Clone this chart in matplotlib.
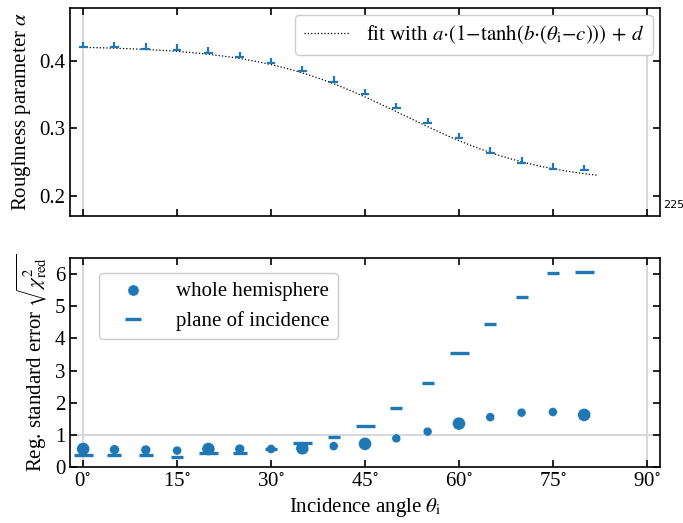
import numpy as np
import matplotlib
matplotlib.use("Agg")
import matplotlib.pyplot as plt

# incidence angles in degrees
theta = [0, 5, 10, 15, 20, 25, 30, 35, 40, 45, 50, 55, 60, 65, 70, 75, 80]

# fitted roughness parameter alpha and its (upper) uncertainty
alpha = [0.420, 0.420, 0.418, 0.416, 0.412, 0.405, 0.396, 0.384, 0.369,
         0.350, 0.330, 0.307, 0.285, 0.264, 0.249, 0.240, 0.238]
alpha_err = [0.008] * len(theta)

# tanh fit parameters a, b, c, d
fit_a, fit_b, fit_c, fit_d = 0.102, 0.044, 51.0, 0.218

# regression standard error
err_hemisphere = [0.56, 0.54, 0.53, 0.51, 0.56, 0.56, 0.56, 0.58, 0.65,
                  0.72, 0.89, 1.10, 1.35, 1.55, 1.69, 1.71, 1.62]
err_plane = [0.36, 0.37, 0.37, 0.32, 0.42, 0.44, 0.57, 0.75, 0.94,
             1.27, 1.85, 2.62, 3.56, 4.46, 5.30, 6.02, 6.05]
# relative weight of each measurement (large / small marker)
weight = [1, 0.2, 0.2, 0, 1, 0.2, 0, 1, 0, 1, 0, 0, 1, 0, 0, 0, 1]

plt.rcParams['font.family'] = ['Liberation Serif', 'DejaVu Serif']
plt.rcParams['mathtext.fontset'] = 'stix'
plt.rcParams['font.size'] = 15
plt.rcParams['axes.linewidth'] = 1.2
for k in ('xtick', 'ytick'):
    plt.rcParams[k + '.direction'] = 'in'
    plt.rcParams[k + '.major.size'] = 5
    plt.rcParams[k + '.major.width'] = 1.2
plt.rcParams['xtick.top'] = True
plt.rcParams['ytick.right'] = True

fig = plt.figure(figsize=(6.83, 5.23), dpi=100)
ax1 = fig.add_axes([0.1025, 0.587, 0.8638, 0.3977])
ax2 = fig.add_axes([0.1025, 0.1071, 0.8638, 0.3996])

grey = '#d8d8d8'
xticks = np.arange(0, 91, 15)
for ax in (ax1, ax2):
    ax.axvline(0, color=grey, lw=1.5, zorder=0)
    ax.axvline(90, color=grey, lw=1.5, zorder=0)
    ax.set_xlim(-2.1, 92.1)
    ax.set_xticks(xticks)

# top panel
th = np.linspace(0, 82, 200)
fit = fit_a * (1 - np.tanh(fit_b * (th - fit_c))) + fit_d
ax1.plot(th, fit, ':', color='black', lw=0.9,
         label=r'fit with $a{\cdot}(1{-}\mathrm{tanh}(b{\cdot}(\theta_\mathrm{i}{-}c)))\,+\,d$')
ax1.errorbar(theta, alpha, yerr=[[0] * len(theta), alpha_err], xerr=0.7,
             fmt='none', ecolor='C0', elinewidth=1.6, capsize=0, zorder=3)
ax1.set_ylim(0.17, 0.478)
ax1.set_yticks([0.2, 0.3, 0.4])
ax1.set_xticklabels([])
ax1.set_ylabel(r'Roughness parameter $\alpha$')
ax1.legend(loc='upper right', fancybox=True, framealpha=1,
           edgecolor='#cccccc', borderaxespad=0.35, handlelength=2.2)
fig.text(0.971, 0.603, '225', fontsize=8, family='DejaVu Sans')

# bottom panel
ax2.axhline(1, color=grey, lw=1.5, zorder=0)
w = np.array(weight)
circ_d = (9.0 + 4.0 * w) * 0.72
bar_l = (12.5 + 6.5 * w) * 0.72
ax2.scatter(theta, err_hemisphere, s=circ_d ** 2, color='C0',
            edgecolors='white', linewidths=0.3, zorder=3, label='whole hemisphere')
for x, y, l in zip(theta, err_plane, bar_l):
    ax2.plot([x], [y], marker='_', ms=l, mew=2.4, color='C0', ls='none', zorder=3)
ax2.plot([], [], marker='_', ms=11, mew=2.4, color='C0', ls='none', label='plane of incidence')
ax2.set_ylim(0, 6.5)
ax2.set_yticks(range(7))
ax2.set_xticklabels([r'%d$^{\circ}$' % v for v in xticks])
ax2.set_ylabel(r'Reg. standard error $\sqrt{\chi^2_\mathrm{red}}$')
ax2.set_xlabel(r'Incidence angle $\theta_\mathrm{i}$')
ax2.legend(loc='upper left', fancybox=True, framealpha=1, edgecolor='#cccccc',
           bbox_to_anchor=(0.035, 0.97), borderaxespad=0.4, handlelength=2.5)

fig.savefig('out.png', dpi=100)
